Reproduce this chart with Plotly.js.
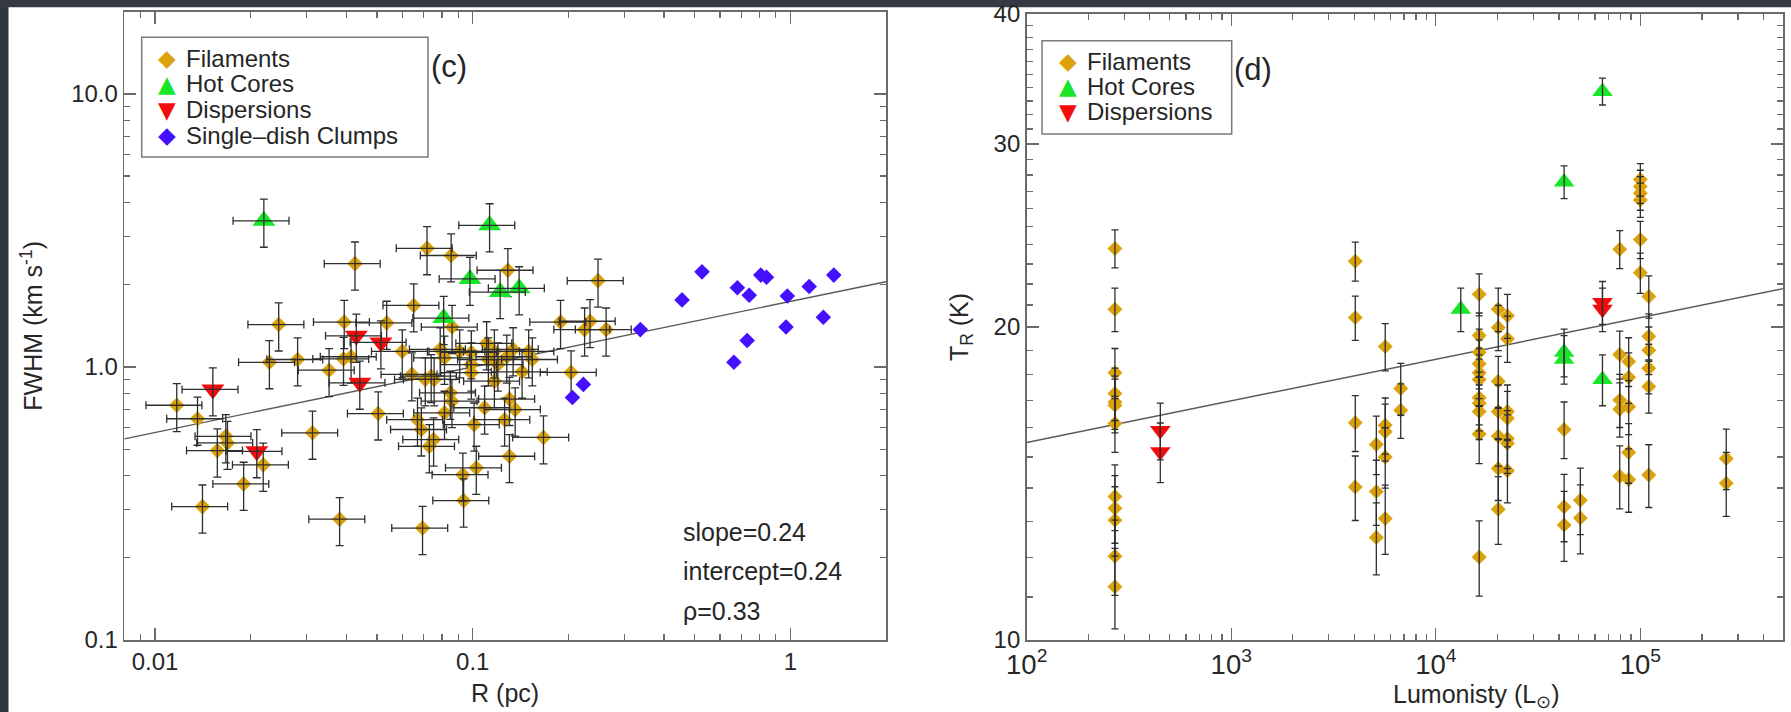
<!DOCTYPE html>
<html>
<head>
<meta charset="utf-8">
<script src="https://cdn.plot.ly/plotly-3.0.1.min.js"></script>
<style>
html,body{margin:0;padding:0;background:#ffffff;}
#chart{width:1791px;height:712px;}
</style>
</head>
<body>
<div id="chart"></div>
<script>
// ---------------- Panel (c): FWHM vs R ----------------
const filR = [0.0426,0.0718,0.0855,0.129,0.0652,0.0245,0.0394,0.0536,0.0861,0.189,0.225,0.248,0.060,0.234,0.263,0.204,
  0.0117,0.0136,0.0167,0.0169,0.0157,0.0219,0.0190,0.0141,0.0381,0.0695,0.0936,0.0931,0.1026,0.1305,0.167,0.0313,0.0504,
  0.0229,0.0281,0.0353,0.0392,0.0414,0.0643,0.0709,0.0756,0.0815,0.085,0.086,0.0815,0.067,0.0689,0.0753,0.073,
  0.101,0.109,0.117,0.1305,0.136,0.126,0.099,0.150,0.134,0.117,0.099,0.154,0.120,0.112,0.099,0.074,0.079,0.091,
  0.1106,0.128,0.143];
const filFWHM = [2.39,2.72,2.56,2.26,1.68,1.43,1.46,1.45,1.40,1.46,1.37,2.07,1.14,1.47,1.37,0.955,
  0.724,0.646,0.557,0.527,0.494,0.438,0.373,0.308,0.277,0.257,0.324,0.403,0.427,0.471,0.552,0.574,0.675,
  1.04,1.065,0.973,1.07,1.09,0.939,0.90,0.90,1.08,0.804,0.749,0.679,0.641,0.59,0.542,0.512,
  0.615,0.709,0.887,0.763,0.698,0.641,0.953,1.14,1.16,1.14,1.13,1.065,1.02,1.065,1.02,0.925,1.16,1.14,
  1.22,1.09,0.96];
const hotR = [0.022,0.113,0.098,0.122,0.140,0.081];
const hotFWHM = [3.43,3.30,2.10,1.88,1.94,1.51];
const dispR = [0.0152,0.0209,0.043,0.0514,0.0441];
const dispFWHM = [0.827,0.491,1.30,1.23,0.875];
const clumpR = [0.337,0.456,0.527,0.681,0.742,0.807,0.841,0.978,1.146,1.37,0.969,1.27,0.731,0.664,0.223,0.206];
const clumpFWHM = [1.37,1.76,2.23,1.95,1.83,2.17,2.13,1.82,1.97,2.17,1.40,1.52,1.25,1.04,0.863,0.773];
const errPctR = 20;       // R error bars, percent
const errPctFWHM = 20;    // FWHM error bars, percent
const fitSlopeC = 0.24, fitInterceptC = 0.24, rhoC = 0.33;
const fitSpanR = [0.008, 2];
const legendNamesC = ['Filaments','Hot Cores','Dispersions','Single–dish Clumps'];

// ---------------- Panel (d): T_R vs Luminosity ----------------
const filL = [270,270,270,270,270,270,270,270,270,270,270,270,
  4040,4040,4040,4040, 5120,5120,5120, 5660,5660,5660,5660,5660, 6740,6740,
  16300,16300,16300,16300,16300,16300,16300,16300,16300,16300,16300,
  20200,20200,20200,20200,20200,20200,20200,
  22400,22400,22400,22400,22400,22400,22400,
  42400,42400,42400, 50900,50900,
  79300,79300,79300,79300,79300,
  87700,87700,87700,87700,87700,
  100000,100000,100000,100000,100000,100000,
  110000,110000,110000,110000,110000,110000,
  263000,263000];
const filT = [23.8,20.8,18.07,17.26,16.94,16.82,16.15,13.74,13.39,13.04,12.04,11.25,
  23.14,20.42,16.18,14.03, 15.42,13.89,12.55, 19.15,16.09,15.86,15.0,13.09, 17.45,16.63,
  21.5,19.63,18.91,18.44,18.07,17.80,17.10,16.89,16.59,15.78,12.02,
  20.8,19.98,17.74,16.59,15.70,14.62,13.36,
  20.5,19.49,16.59,16.34,15.62,15.46,14.55,
  15.94,13.43,12.9, 13.63,13.1,
  23.76,18.82,17.01,16.67,14.37,
  18.53,17.89,16.76,15.15,14.27,
  27.72,27.3,26.9,26.5,24.27,22.55,
  21.4,19.59,19.0,18.25,17.53,14.41,
  14.95,14.15];
const hotL = [13250,42400,42400,42400,65300,65300];
const hotT = [20.8,27.58,18.91,18.62,33.7,17.8];
const dispL = [450,450,65300,65300];
const dispT = [15.9,15.17,21.12,20.8];
const errT = 1.0;   // K, error on T_R
const fitSlopeD = 0.04, fitInterceptD = 1.11;
const fitSpanL = [100, 5e5];
const legendNamesD = ['Filaments','Hot Cores','Dispersions'];

// ---------------- styles ----------------
const FONT = 'Liberation Sans, Arial, Helvetica, sans-serif';
const SYMFONT = 'DejaVu Sans, Liberation Sans, sans-serif';
const TXT = '#262626';
const C_FIL = '#dca20b', C_HOT = '#19e62a', C_DISP = '#f40c0c', C_CLUMP = '#4410ff';
const ERRC = '#2e2e2e';

function fitLine(span, slope, icpt){
  return span.map(v => Math.pow(10, icpt + slope*Math.log10(v)));
}
function errX(){ return {type:'percent', value:errPctR, color:ERRC, thickness:1.3, width:4}; }
function errY(){ return {type:'percent', value:errPctFWHM, color:ERRC, thickness:1.3, width:4}; }
function errT_(){ return {type:'constant', value:errT, color:ERRC, thickness:1.3, width:3.5}; }

const traces = [
  // panel c
  {x:fitSpanR, y:fitLine(fitSpanR, fitSlopeC, fitInterceptC), mode:'lines', line:{color:'#5a5a5a', width:1.4},
   xaxis:'x', yaxis:'y', name:'fit', hoverinfo:'skip'},
  {x:filR, y:filFWHM, mode:'markers', name:legendNamesC[0], xaxis:'x', yaxis:'y',
   marker:{symbol:'diamond', size:12, color:C_FIL, line:{width:0}}},
  {x:filR, y:filFWHM, mode:'markers', hoverinfo:'skip', xaxis:'x', yaxis:'y',
   marker:{opacity:0, size:1}, error_x:errX(), error_y:errY()},
  {x:hotR, y:hotFWHM, mode:'markers', name:legendNamesC[1], xaxis:'x', yaxis:'y',
   marker:{symbol:'triangle-up', size:20, color:C_HOT, line:{width:0}}},
  {x:hotR, y:hotFWHM, mode:'markers', hoverinfo:'skip', xaxis:'x', yaxis:'y',
   marker:{opacity:0, size:1}, error_x:errX(), error_y:errY()},
  {x:dispR, y:dispFWHM, mode:'markers', name:legendNamesC[2], xaxis:'x', yaxis:'y',
   marker:{symbol:'triangle-down', size:20, color:C_DISP, line:{width:0}}},
  {x:dispR, y:dispFWHM, mode:'markers', hoverinfo:'skip', xaxis:'x', yaxis:'y',
   marker:{opacity:0, size:1}, error_x:errX(), error_y:errY()},
  {x:clumpR, y:clumpFWHM, mode:'markers', name:legendNamesC[3], xaxis:'x', yaxis:'y',
   marker:{symbol:'diamond', size:12, color:C_CLUMP, line:{width:0}}},

  // panel d
  {x:fitSpanL, y:fitLine(fitSpanL, fitSlopeD, fitInterceptD), mode:'lines', line:{color:'#5a5a5a', width:1.4},
   xaxis:'x2', yaxis:'y2', name:'fit', hoverinfo:'skip'},
  {x:filL, y:filT, mode:'markers', name:legendNamesD[0], xaxis:'x2', yaxis:'y2',
   marker:{symbol:'diamond', size:11.5, color:C_FIL, line:{width:0}}},
  {x:filL, y:filT, mode:'markers', hoverinfo:'skip', xaxis:'x2', yaxis:'y2',
   marker:{opacity:0, size:1}, error_y:errT_()},
  {x:hotL, y:hotT, mode:'markers', name:legendNamesD[1], xaxis:'x2', yaxis:'y2',
   marker:{symbol:'triangle-up', size:18, color:C_HOT, line:{width:0}}},
  {x:hotL, y:hotT, mode:'markers', hoverinfo:'skip', xaxis:'x2', yaxis:'y2',
   marker:{opacity:0, size:1}, error_y:errT_()},
  {x:dispL, y:dispT, mode:'markers', name:legendNamesD[2], xaxis:'x2', yaxis:'y2',
   marker:{symbol:'triangle-down', size:18, color:C_DISP, line:{width:0}}},
  {x:dispL, y:dispT, mode:'markers', hoverinfo:'skip', xaxis:'x2', yaxis:'y2',
   marker:{opacity:0, size:1}, error_y:errT_()}
];

const W = 1791, H = 712;
const px = v => v / W, py = v => 1 - v / H;

const axisBase = {
  type:'log', showgrid:false, zeroline:false, showline:true, mirror:'allticks',
  linecolor:'#6a6a6a', linewidth:1.6, ticks:'inside', ticklen:12, tickwidth:1.4, tickcolor:'#6a6a6a',
  tickfont:{family:FONT, size:24, color:TXT},
  minor:{ticks:'inside', ticklen:6, tickwidth:1.3, tickcolor:'#6a6a6a', showgrid:false}
};

// ---- hand-built legends (boxes, symbols, labels), IDL style ----
const annotations = [];
const shapes = [
  {type:'rect', xref:'paper', yref:'paper', x0:0, x1:px(8.5), y0:0, y1:1, fillcolor:'#30343b', line:{width:0}, layer:'below'},
  {type:'rect', xref:'paper', yref:'paper', x0:0, x1:1, y0:py(7.3), y1:1, fillcolor:'#353a42', line:{width:0}, layer:'below'}
];
function addLegend(box, markerX, textX, rowsY, names, glyphs, colors){
  shapes.push({type:'rect', xref:'paper', yref:'paper', x0:px(box[0]), x1:px(box[1]), y0:py(box[3]), y1:py(box[2]),
    fillcolor:'#ffffff', line:{color:'#7a7a7a', width:1.5}, layer:'above'});
  names.forEach((n, i) => {
    annotations.push({text:glyphs[i], xref:'paper', yref:'paper', x:px(markerX), y:py(rowsY[i]),
      xanchor:'center', yanchor:'middle', showarrow:false, font:{family:SYMFONT, size:23, color:colors[i]}});
    annotations.push({text:n, xref:'paper', yref:'paper', x:px(textX), y:py(rowsY[i]),
      xanchor:'left', yanchor:'middle', showarrow:false, font:{family:FONT, size:24, color:TXT}});
  });
}
addLegend([141.7, 428, 37.3, 157], 167, 184, [58, 84, 109.5, 135], legendNamesC,
  ['◆','▲','▼','◆'], [C_FIL, C_HOT, C_DISP, C_CLUMP]);
addLegend([1042, 1231.7, 40.7, 134], 1068, 1085, [61, 86.5, 112], legendNamesD,
  ['◆','▲','▼'], [C_FIL, C_HOT, C_DISP]);

annotations.push(
  {text:'(c)', xref:'paper', yref:'paper', x:px(449), y:py(67), xanchor:'center', yanchor:'middle',
   showarrow:false, font:{family:FONT, size:31, color:TXT}},
  {text:'(d)', xref:'paper', yref:'paper', x:px(1253), y:py(70), xanchor:'center', yanchor:'middle',
   showarrow:false, font:{family:FONT, size:31, color:TXT}},
  {text:'slope=' + fitSlopeC.toFixed(2), xref:'paper', yref:'paper', x:px(681), y:py(532), xanchor:'left', yanchor:'middle',
   showarrow:false, font:{family:FONT, size:25, color:TXT}},
  {text:'intercept=' + fitInterceptC.toFixed(2), xref:'paper', yref:'paper', x:px(681), y:py(570.5), xanchor:'left', yanchor:'middle',
   showarrow:false, font:{family:FONT, size:25, color:TXT}},
  {text:'ρ=' + rhoC.toFixed(2), xref:'paper', yref:'paper', x:px(681), y:py(611), xanchor:'left', yanchor:'middle',
   showarrow:false, font:{family:FONT, size:25, color:TXT}},
  {text:'Lumonisty (L<sub>⊙</sub>)', xref:'paper', yref:'paper', x:px(1476), y:py(696), xanchor:'center', yanchor:'middle',
   showarrow:false, font:{family:FONT, size:25, color:TXT}}
);

const layout = {
  width:W, height:H, margin:{l:0, r:0, t:0, b:0},
  paper_bgcolor:'#ffffff', plot_bgcolor:'#ffffff',
  font:{family:FONT, color:TXT},
  showlegend:false,
  xaxis:Object.assign({}, axisBase, {
    domain:[px(124.3), px(886)], anchor:'y',
    range:[Math.log10(0.008), Math.log10(2)], dtick:1, tickformat:'~g',
    minor:Object.assign({}, axisBase.minor, {dtick:'D1'}),
    title:{text:'R (pc)', font:{family:FONT, size:25, color:TXT}, standoff:10}
  }),
  yaxis:Object.assign({}, axisBase, {
    domain:[py(640), py(11.7)], anchor:'x',
    range:[-1, Math.log10(20)], dtick:1, tickformat:'.1f',
    minor:Object.assign({}, axisBase.minor, {dtick:'D1'}),
    title:{text:'FWHM (km s<sup>-1</sup>)', font:{family:FONT, size:25, color:TXT}, standoff:21}
  }),
  xaxis2:Object.assign({}, axisBase, {
    domain:[px(1026.7), px(1783.3)], anchor:'y2',
    range:[2, Math.log10(5e5)], dtick:1, exponentformat:'power', showexponent:'all',
    tickfont:{family:FONT, size:22, color:TXT},
    minor:Object.assign({}, axisBase.minor, {dtick:'D1'})
  }),
  yaxis2:Object.assign({}, axisBase, {
    domain:[py(640), py(14)], anchor:'x2',
    range:[1, Math.log10(40)], dtick:'L10', tick0:10,
    minor:Object.assign({}, axisBase.minor, {dtick:'L1', tick0:10}),
    title:{text:'T<sub>R</sub> (K)', font:{family:FONT, size:25, color:TXT}, standoff:18}
  }),
  annotations:annotations,
  shapes:shapes
};

Plotly.newPlot('chart', traces, layout, {displayModeBar:false, staticPlot:true});
</script>
</body>
</html>
